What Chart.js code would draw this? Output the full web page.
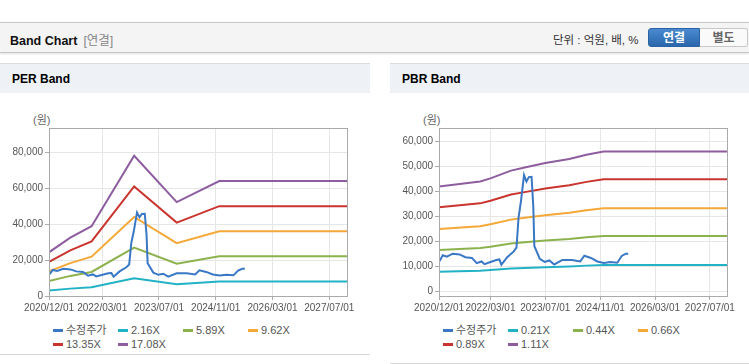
<!DOCTYPE html>
<html>
<head>
<meta charset="utf-8">
<script src="https://cdn.jsdelivr.net/npm/chart.js@4.4.1/dist/chart.umd.min.js"></script>
<style>
  body { margin: 0; width: 749px; height: 364px; background: #fff; position: relative; overflow: hidden;
         font-family: "Liberation Sans", "Noto Sans CJK KR", sans-serif; }
  .abs { position: absolute; }
  #head { left: 0; top: 22px; width: 749px; height: 29px; background: #f4f4f4;
          border-top: 1px solid #c6c6c6; border-bottom: 1px solid #c6c6c6; box-shadow: 0 1px 2px rgba(0,0,0,0.12); }
  #head .t { left: 10px; top: 7px; font-size: 12.5px; font-weight: bold; color: #111; }
  #head .t span { font-weight: normal; color: #888; margin-left: 6px; }
  #head .u { left: 553px; top: 8px; font-size: 11.5px; color: #333; }
  .btn { top: 5px; height: 19px; line-height: 19px; text-align: center; font-size: 12px; font-weight: bold; }
  #b1 { left: 648px; width: 52px; color: #fff; background: linear-gradient(#4a8ad0, #2a66ab); border: 1px solid #2a62a4;
        border-radius: 3px 0 0 3px; box-sizing: border-box; }
  #b2 { left: 700px; width: 48px; color: #666; background: #fafafa; border: 1px solid #c8c8c8; border-left: none;
        border-radius: 0 3px 3px 0; box-sizing: border-box; }
  .bar { top: 63px; height: 29px; background: #eef2f7; border-top: 1px solid #dcdcdc; }
  .bar div { position: absolute; left: 12px; top: 8px; font-size: 12px; font-weight: bold; color: #000; }
  .unit { top: 111px; font-size: 11px; color: #666; }
  .foot { height: 1px; background: #d6d6d6; }
  .legend { top: 323px; width: 270px; font-size: 11px; color: #555; }
  .legend .it { display: inline-block; width: 65px; height: 14px; line-height: 14px; white-space: nowrap; vertical-align: top; }
  .legend .mk { display: inline-block; width: 10px; height: 3px; vertical-align: middle; margin-right: 3px; margin-top: -2px; }
</style>
</head>
<body>
<div id="head" class="abs">
  <div class="abs t">Band Chart<span>[연결]</span></div>
  <div class="abs u">단위 : 억원, 배, %</div>
  <div id="b1" class="abs btn">연결</div>
  <div id="b2" class="abs btn">별도</div>
</div>

<div class="abs bar" style="left:0;width:370px"><div>PER Band</div></div>
<div class="abs bar" style="left:390px;width:359px"><div>PBR Band</div></div>
<div class="abs unit" style="left:33px">(원)</div>
<div class="abs unit" style="left:423px">(원)</div>
<canvas id="perChart" class="abs" style="left:0;top:100px" width="370" height="220"></canvas>
<canvas id="pbrChart" class="abs" style="left:390px;top:100px" width="359" height="220"></canvas>
<div id="perLegend" class="abs legend" style="left:53px"></div>
<div id="pbrLegend" class="abs legend" style="left:443px"></div>
<div class="abs foot" style="left:0;top:354px;width:370px"></div>
<div class="abs foot" style="left:390px;top:363px;width:359px"></div>

<script>
// x values are months counted from 2020/12/01
const tickMonths = [0, 15, 31, 47, 63, 79];
const tickLabels = ['2020/12/01', '2022/03/01', '2023/07/01', '2024/11/01', '2026/03/01', '2027/07/01'];

const priceMonths = [0, 1.1, 2.3, 4, 6, 7.7, 9.6, 11, 12.4, 13.3, 14.8, 16.7, 17.6, 18.2, 19.9, 21.8, 22.6, 23.2, 23.9,
  24.8, 25.5, 26.2, 27, 27.5, 27.8, 29.4, 30.8, 32.2, 33.6, 36, 38.8, 41.2, 42.4, 44.3, 46.2, 48.1, 50, 52, 53.3, 54.5, 55.2];
const priceValues = [11800, 14500, 13900, 15100, 14800, 13700, 13400, 11300, 12000, 10900, 11700, 12600, 12800, 10700,
  13700, 16000, 17500, 29500, 36000, 46500, 43900, 45700, 45800, 34000, 18200, 13000, 11800, 12400, 10800, 12600, 12600,
  12000, 14300, 13400, 12000, 11400, 11800, 11500, 14200, 15100, 15100];

const perMonths = [0, 6, 12, 24, 36, 48, 84];
const per216 = [3074, 4104, 4914, 9871, 6610, 8089, 8089];
const per589 = [8381, 11191, 13400, 26917, 18023, 22058, 22058];
const per962 = [13689, 18278, 21886, 43963, 29437, 36027, 36027];
const per1335 = [18997, 25365, 30371, 61010, 40851, 49996, 49996];
const per1708 = [24305, 32452, 38857, 78056, 52265, 63965, 63965];
const perTicks = [0, 20000, 40000, 60000, 80000];

const pbrMonths = [0, 12, 15, 21, 25, 31, 38, 43, 48, 84];
const pbr021 = [7928, 8306, 8547, 9135, 9366, 9702, 10017, 10332, 10584, 10584];
const pbr044 = [16610, 17402, 17908, 19140, 19624, 20328, 20988, 21648, 22176, 22176];
const pbr066 = [24915, 26103, 26862, 28710, 29436, 30492, 31482, 32472, 33264, 33264];
const pbr089 = [33598, 35200, 36223, 38715, 39694, 41118, 42453, 43788, 44856, 44856];
const pbr111 = [41903, 43901, 45177, 48285, 49506, 51282, 52947, 54612, 55944, 55944];
const pbrTicks = [0, 10000, 20000, 30000, 40000, 50000, 60000];

const colors = ['#3a78c6', '#22b2c6', '#8cb24e', '#f4a838', '#c9352e', '#8e5d9f'];

const pts = (xs, ys) => xs.map((x, i) => ({ x, y: ys[i] }));

const borderBox = {
  id: 'borderBox',
  afterDraw(chart) {
    const { ctx, chartArea: a } = chart;
    ctx.save();
    ctx.strokeStyle = '#aaaaaa';
    ctx.lineWidth = 1;
    ctx.strokeRect(Math.round(a.left) + 0.5, Math.round(a.top) + 0.5, Math.round(a.right - a.left), Math.round(a.bottom - a.top));
    ctx.restore();
  }
};

function makeChart(id, legendId, series, names, yMin, yMax, yTicks, padRight) {
  const datasets = [{ label: '수정주가', data: pts(priceMonths, priceValues) }]
    .concat(series.map((s, i) => ({ label: names[i], data: s })))
    .map((d, i) => ({ ...d, borderColor: colors[i], backgroundColor: colors[i], borderWidth: 2, pointRadius: 0, tension: 0 }));

  const chart = new Chart(document.getElementById(id), {
    type: 'line',
    data: { datasets },
    options: {
      responsive: false,
      animation: false,
      layout: { padding: { top: 28, right: padRight, left: 0, bottom: 0 } },
      plugins: { legend: { display: false }, tooltip: { enabled: false } },
      scales: {
        x: {
          type: 'linear', min: 0, max: 84,
          afterBuildTicks: (s) => { s.ticks = tickMonths.map((v) => ({ value: v })); },
          afterFit: (s) => { s.height = 24; },
          grid: { color: '#e6e6e6', tickColor: '#aaaaaa', tickLength: 4 },
          border: { color: '#aaaaaa' },
          ticks: {
            color: '#555', font: { size: 10, family: 'Liberation Sans' }, padding: 2, maxRotation: 0, autoSkip: false,
            callback: (v) => tickLabels[tickMonths.indexOf(v)]
          }
        },
        y: {
          min: yMin, max: yMax,
          afterBuildTicks: (s) => { s.ticks = yTicks.map((v) => ({ value: v })); },
          afterFit: (s) => { s.width = 49; },
          grid: { color: '#e6e6e6', tickColor: '#aaaaaa', tickLength: 4 },
          border: { color: '#aaaaaa' },
          ticks: {
            color: '#555', font: { size: 10, family: 'Liberation Sans' }, padding: 2,
            callback: (v) => v.toLocaleString('en-US')
          }
        }
      }
    },
    plugins: [borderBox]
  });

  document.getElementById(legendId).innerHTML = chart.data.datasets.map((d) =>
    `<span class="it"><span class="mk" style="background:${d.borderColor}"></span>${d.label}</span>`).join('');
  return chart;
}

makeChart('perChart', 'perLegend',
  [pts(perMonths, per216), pts(perMonths, per589), pts(perMonths, per962), pts(perMonths, per1335), pts(perMonths, per1708)],
  ['2.16X', '5.89X', '9.62X', '13.35X', '17.08X'], 0, 93500, perTicks, 23);

makeChart('pbrChart', 'pbrLegend',
  [pts(pbrMonths, pbr021), pts(pbrMonths, pbr044), pts(pbrMonths, pbr066), pts(pbrMonths, pbr089), pts(pbrMonths, pbr111)],
  ['0.21X', '0.44X', '0.66X', '0.89X', '1.11X'], -1800, 65300, pbrTicks, 22);
</script>
</body>
</html>
